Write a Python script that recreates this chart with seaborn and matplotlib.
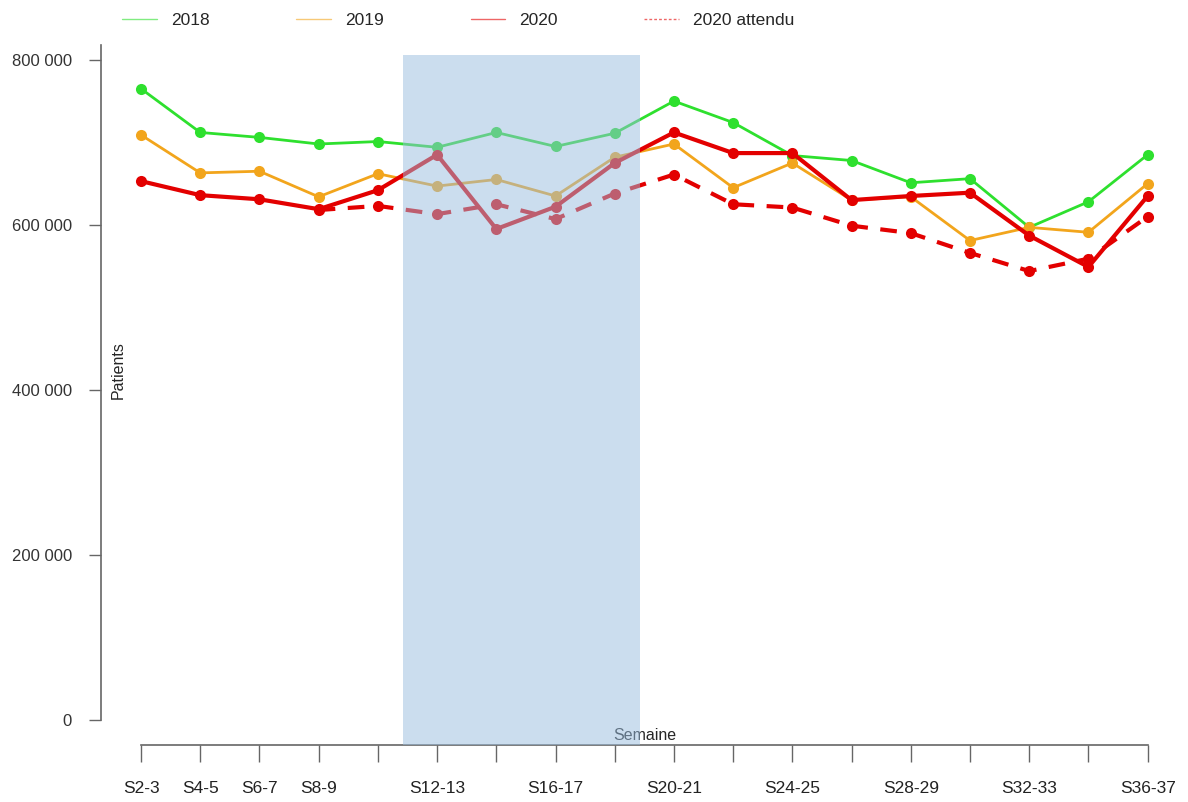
import numpy as np
import pandas as pd
import matplotlib
matplotlib.use("Agg")
import matplotlib.pyplot as plt
import seaborn as sns
from matplotlib.ticker import FuncFormatter

semaines = ["S2-3", "S4-5", "S6-7", "S8-9", "S10-11", "S12-13", "S14-15", "S16-17", "S18-19",
            "S20-21", "S22-23", "S24-25", "S26-27", "S28-29", "S30-31", "S32-33", "S34-35", "S36-37"]
# labels that R kept on the axis (others dropped for overlap)
labels_visibles = ["S2-3", "S4-5", "S6-7", "S8-9", "S12-13", "S16-17", "S20-21",
                   "S24-25", "S28-29", "S32-33", "S36-37"]

val_2018 = [765000, 712000, 706000, 698000, 701000, 694000, 712000, 695000, 711000,
            750000, 724000, 684000, 678000, 651000, 656000, 597000, 628000, 685000]
val_2019 = [709000, 663000, 665000, 634000, 662000, 647000, 655000, 635000, 682000,
            698000, 645000, 675000, 630000, 634000, 581000, 597000, 591000, 650000]
val_2020 = [653000, 636000, 631000, 619000, 642000, 685000, 595000, 622000, 675000,
            712000, 687000, 687000, 630000, 635000, 639000, 587000, 549000, 635000]
# expected 2020 only from S8-9 onward
semaines_attendu = semaines[3:]
val_2020_attendu = [618000, 623000, 613000, 625000, 607000, 638000,
                    661000, 625000, 621000, 599000, 590000, 566000, 544000, 559000, 610000]

sns.set_style("white")
plt.rcParams['font.family'] = ['Liberation Sans', 'DejaVu Sans']

pos = {s: i for i, s in enumerate(semaines)}
df = pd.DataFrame({"x": [pos[s] for s in semaines], "y2018": val_2018,
                   "y2019": val_2019, "y2020": val_2020})
df_att = pd.DataFrame({"x": [pos[s] for s in semaines_attendu], "y": val_2020_attendu})

fig = plt.figure(figsize=(11.88, 8.02), dpi=100)
ax = fig.add_axes([0.085, 0.0711, 0.891, 0.873])

vert = "#2ee02e"
orange = "#f2a51c"
rouge = "#e30000"

sns.lineplot(data=df, x="x", y="y2018", color=vert, lw=2, marker="o", markersize=8,
             markeredgewidth=0, ax=ax)
sns.lineplot(data=df, x="x", y="y2019", color=orange, lw=2, marker="o", markersize=8,
             markeredgewidth=0, ax=ax)
sns.lineplot(data=df_att, x="x", y="y", color=rouge, lw=3, ls=(0, (4, 3)), marker="o",
             markersize=8, markeredgewidth=0, ax=ax)
sns.lineplot(data=df, x="x", y="y2020", color=rouge, lw=3, marker="o", markersize=8,
             markeredgewidth=0, ax=ax)

# confinement shading, drawn over the lines
ax.axvspan(4.43, 8.43, ymin=0, ymax=0.986, color="#99bddf", alpha=0.5, lw=0, zorder=5)

ax.set_xlim(-0.676, 17.2)
ax.set_ylim(-30303, 818181)

for sp in ["top", "right"]:
    ax.spines[sp].set_visible(False)
ax.spines["left"].set_bounds(0, 818181)
ax.spines["bottom"].set_bounds(0, 17)
for sp in ["left", "bottom"]:
    ax.spines[sp].set_color("#666666")
    ax.spines[sp].set_linewidth(1.2)

ax.set_xticks(range(len(semaines)))
ax.set_xticklabels([s if s in labels_visibles else "" for s in semaines])
ax.set_yticks([0, 200000, 400000, 600000, 800000])
ax.yaxis.set_major_formatter(FuncFormatter(lambda v, p: f"{int(v):,}".replace(",", " ")))
ax.tick_params(axis="x", bottom=True, direction="out", length=12, width=1, color="#666666",
               pad=14, labelsize=12.5, labelcolor="#222222")
ax.tick_params(axis="y", left=True, direction="out", length=9, width=1, color="#666666",
               pad=12, labelsize=12, labelcolor="#333333")
ax.set_xlabel("")
ax.set_ylabel("")

ax.text(0.016, 0.536, "Patients", rotation=90, ha="center", va="center",
        fontsize=11.5, transform=ax.transAxes, zorder=1)
ax.text(0.514, 0.013, "Semaine", ha="center", va="center", fontsize=11.5,
        transform=ax.transAxes, zorder=1)

handles = [plt.Line2D([], [], color=vert, lw=1, alpha=0.6),
           plt.Line2D([], [], color=orange, lw=1, alpha=0.6),
           plt.Line2D([], [], color=rouge, lw=1, alpha=0.6),
           plt.Line2D([], [], color=rouge, lw=1, ls=(0, (2, 1.5)), alpha=0.6)]
fig.legend(handles, ["2018", "2019", "2020", "2020 attendu"], ncol=4, frameon=False,
           loc="center left", bbox_to_anchor=(0.103, 0.975), borderaxespad=0, borderpad=0,
           handlelength=2.0, columnspacing=5.0, fontsize=12.5)

fig.savefig("out.png", dpi=100)
